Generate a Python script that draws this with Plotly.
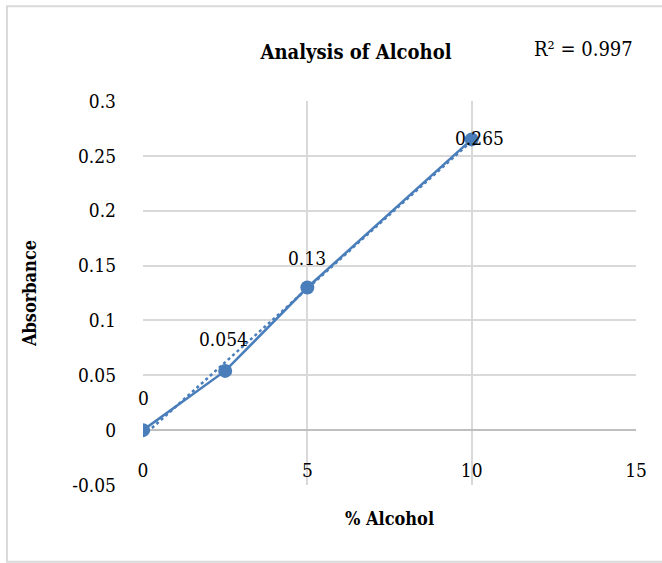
import numpy as np
import plotly.graph_objects as go

# Calibration data: % alcohol vs absorbance
alcohol_pct = [0, 2.5, 5, 10]
absorbance = [0, 0.054, 0.13, 0.265]
point_labels = ["0", "0.054", "0.13", "0.265"]
r2_label = "R² = 0.997"

x_ticks = [0, 5, 10, 15]
y_ticks = [-0.05, 0, 0.05, 0.1, 0.15, 0.2, 0.25, 0.3]
y_tick_text = ["-0.05", "0", "0.05", "0.1", "0.15", "0.2", "0.25", "0.3"]

BLUE = "#4a7ebb"
GRID = "#d9d9d9"
FONT = "DejaVu Serif Condensed, DejaVu Serif"

# Linear trendline over the measured range
slope, intercept = np.polyfit(alcohol_pct, absorbance, 1)
trend_x = [min(alcohol_pct), max(alcohol_pct)]
trend_y = [slope * v + intercept for v in trend_x]

fig = go.Figure()

fig.add_trace(go.Scatter(
    x=trend_x, y=trend_y, mode="lines",
    line=dict(color=BLUE, width=2.5, dash="dot"),
    hoverinfo="skip", showlegend=False,
))

fig.add_trace(go.Scatter(
    x=alcohol_pct, y=absorbance, mode="lines+markers",
    line=dict(color=BLUE, width=2.5),
    marker=dict(color=BLUE, size=14),
    showlegend=False,
))

# Data labels
label_offsets = [(0, 32), (-2, 32), (0, 30), (8, 1)]
for xv, yv, txt, (dx, dy) in zip(alcohol_pct, absorbance, point_labels, label_offsets):
    fig.add_annotation(
        x=xv, y=yv, text=txt, showarrow=False,
        xshift=dx, yshift=dy,
        font=dict(family=FONT, size=19, color="#000000"),
    )

# R² text
fig.add_annotation(
    x=0.997, y=1.135, xref="paper", yref="paper",
    text=r2_label, showarrow=False, xanchor="right", yanchor="middle",
    font=dict(family=FONT, size=20, color="#000000"),
)

# Outer chart frame: left, top and bottom edges
fig.add_shape(
    type="path", xref="paper", yref="paper",
    path="M 1.2,1.247 L -0.276,1.247 L -0.276,-0.2 L 1.2,-0.2",
    line=dict(color=GRID, width=2), layer="below",
)

y_min, y_max = -0.05, 0.3
zero_pos = (0 - y_min) / (y_max - y_min)

fig.update_layout(
    width=662, height=563,
    margin=dict(l=143, r=26, t=101, b=78),
    paper_bgcolor="white", plot_bgcolor="white",
    font=dict(family=FONT, size=19, color="#000000"),
    title=dict(
        text="<b>Analysis of Alcohol</b>",
        x=356 / 662, xanchor="center", y=1 - 52 / 563, yanchor="middle",
        font=dict(family=FONT, size=20, color="#000000"),
    ),
    xaxis=dict(
        range=[0, 15], tickvals=x_ticks, ticktext=[str(v) for v in x_ticks],
        showgrid=True, gridcolor=GRID, gridwidth=1.5,
        zeroline=False, showline=False,
        anchor="free", position=zero_pos,
        ticks="", ticklabelstandoff=27,
        title=dict(text="<b>% Alcohol</b>", font=dict(family=FONT, size=18), standoff=32),
        fixedrange=True,
    ),
    yaxis=dict(
        range=[y_min, y_max], tickvals=y_ticks, ticktext=y_tick_text,
        showgrid=True, gridcolor=GRID, gridwidth=1.5,
        zeroline=True, zerolinecolor="#bfbfbf", zerolinewidth=2,
        showline=False, ticks="", ticklabelstandoff=26,
        title=dict(text="<b>Absorbance</b>", font=dict(family=FONT, size=18), standoff=30),
        fixedrange=True,
    ),
)

fig.write_html("out.html")
